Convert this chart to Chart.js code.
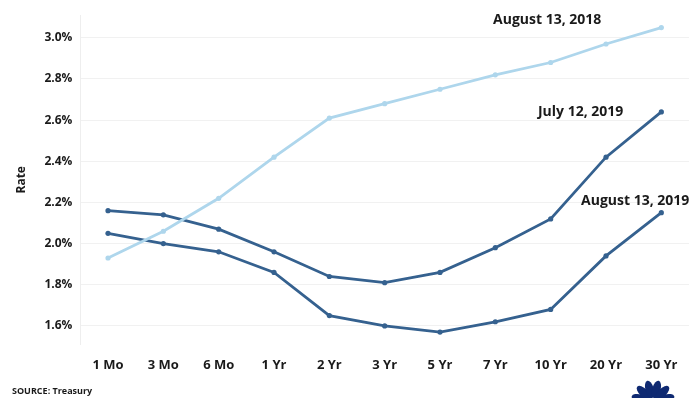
<!DOCTYPE html>
<html>
<head>
<meta charset="utf-8">
<script src="https://cdn.jsdelivr.net/npm/chart.js@4.4.1/dist/chart.umd.min.js"></script>
<style>
  html, body { margin: 0; padding: 0; background: #fff; }
  #wrap { position: relative; width: 699px; height: 398px; }
</style>
</head>
<body>
<div id="wrap"><canvas id="chart" width="699" height="398"></canvas></div>
<script>
const maturities = ['1 Mo', '3 Mo', '6 Mo', '1 Yr', '2 Yr', '3 Yr', '5 Yr', '7 Yr', '10 Yr', '20 Yr', '30 Yr'];
const aug2018 = [1.93, 2.06, 2.22, 2.42, 2.61, 2.68, 2.75, 2.82, 2.88, 2.97, 3.05];
const jul2019 = [2.16, 2.14, 2.07, 1.96, 1.84, 1.81, 1.86, 1.98, 2.12, 2.42, 2.64];
const aug2019 = [2.05, 2.00, 1.96, 1.86, 1.65, 1.60, 1.57, 1.62, 1.68, 1.94, 2.15];
const rateTicks = [1.6, 1.8, 2.0, 2.2, 2.4, 2.6, 2.8, 3.0];
const seriesNames = ['August 13, 2018', 'July 12, 2019', 'August 13, 2019'];

const FONT = '"Open Sans", Lato, sans-serif';
const light = '#aed6ec';
const dark = '#35618f';

// labels at the end of each line
const endLabels = {
    id: 'endLabels',
    afterDatasetsDraw(chart) {
        const ctx = chart.ctx;
        const offsets = [[-60, -8], [-38, 0], [28, -12]];
        ctx.save();
        ctx.font = 'bold 14px ' + FONT;
        ctx.fillStyle = '#1a1a1a';
        ctx.textAlign = 'right';
        ctx.textBaseline = 'middle';
        chart.data.datasets.forEach((ds, i) => {
            const meta = chart.getDatasetMeta(i);
            const pt = meta.data[meta.data.length - 1];
            ctx.fillText(ds.label, pt.x + offsets[i][0], pt.y + offsets[i][1]);
        });
        ctx.restore();
    }
};

// source note and small peacock logo
const footer = {
    id: 'footer',
    afterDraw(chart) {
        const ctx = chart.ctx;
        ctx.save();
        ctx.font = 'bold 9px ' + FONT;
        ctx.fillStyle = '#1a1a1a';
        ctx.textBaseline = 'middle';
        ctx.fillText('SOURCE: Treasury', 12, 391);

        const cx = 653, cy = 402;
        ctx.fillStyle = '#0f2a72';
        for (let k = 0; k < 6; k++) {
            const a = Math.PI + (k + 0.5) * Math.PI / 6;
            ctx.beginPath();
            ctx.ellipse(cx + Math.cos(a) * 13, cy + Math.sin(a) * 13, 4.2, 9, a + Math.PI / 2, 0, Math.PI * 2);
            ctx.fill();
        }
        ctx.restore();
    }
};

new Chart(document.getElementById('chart'), {
    type: 'line',
    data: {
        labels: maturities,
        datasets: [
            { label: seriesNames[0], data: aug2018, borderColor: light, backgroundColor: light },
            { label: seriesNames[1], data: jul2019, borderColor: dark, backgroundColor: dark },
            { label: seriesNames[2], data: aug2019, borderColor: dark, backgroundColor: dark }
        ]
    },
    options: {
        responsive: false,
        animation: false,
        layout: { padding: { top: 10, right: 10, left: 10, bottom: 20 } },
        elements: {
            line: { borderWidth: 2.8, tension: 0 },
            point: { radius: 2.6, borderWidth: 0 }
        },
        plugins: {
            legend: { display: false },
            tooltip: { enabled: false }
        },
        scales: {
            x: {
                offset: true,
                grid: { display: false },
                border: { display: false },
                ticks: { color: '#1a1a1a', font: { family: FONT, size: 13, weight: 'bold' }, padding: 5 }
            },
            y: {
                min: 1.51,
                max: 3.11,
                afterBuildTicks(axis) {
                    axis.ticks = rateTicks.map(v => ({ value: v }));
                },
                grid: { color: '#f1f1f1', drawTicks: false },
                border: { color: '#eeeeee' },
                title: {
                    display: true,
                    text: 'Rate',
                    color: '#1a1a1a',
                    font: { family: FONT, size: 12, weight: 'bold' },
                    padding: { bottom: 8 }
                },
                ticks: {
                    color: '#1a1a1a',
                    font: { family: FONT, size: 12, weight: 'bold' },
                    padding: 8,
                    callback: v => v.toFixed(1) + '%'
                }
            }
        }
    },
    plugins: [endLabels, footer]
});
</script>
</body>
</html>
